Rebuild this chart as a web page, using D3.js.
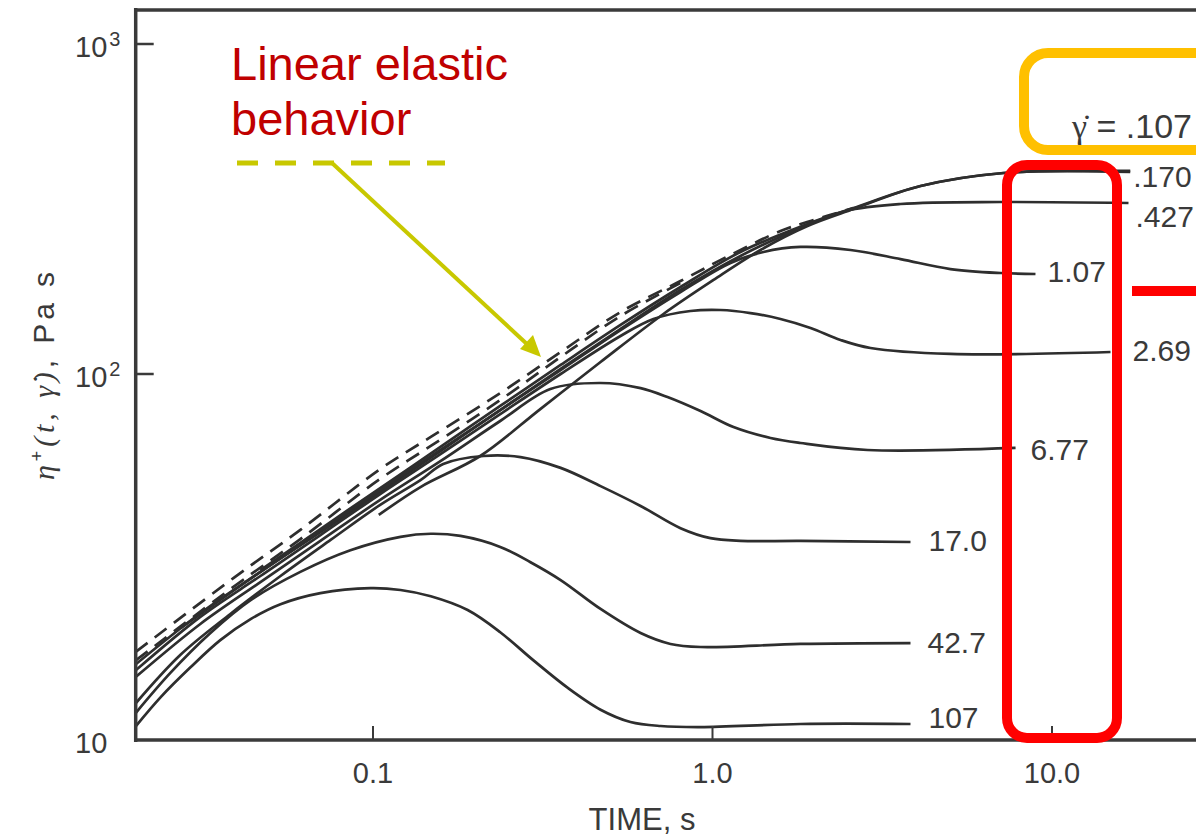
<!DOCTYPE html>
<html>
<head>
<meta charset="utf-8">
<script src="https://cdn.jsdelivr.net/npm/d3@7"></script>
<style>
  html, body { margin: 0; padding: 0; background: #fff; }
  svg { display: block; }
  text { font-family: "Liberation Sans", Arial, Helvetica, sans-serif; fill: #3a3a3a; }
</style>
</head>
<body>
<svg id="chart" width="1196" height="838"></svg>
<script>
// ---- data: [time s, eta+ Pa s] ----
// linear viscoelastic (dashed) envelopes
const lveUpper = [[0.02,17.4],[0.0388,27.7],[0.0611,37.5],[0.105,55.0],[0.148,67.3],[0.237,88.7],
  [0.357,116.6],[0.536,154.1],[0.805,191.3],[1.13,229.5],[1.586,271.2],[1.944,290.8],[2.6,318.4]];
const lveLower = [[0.02,16.5],[0.0388,26.2],[0.0611,35.4],[0.105,51.7],[0.148,63.6],[0.237,84.9],
  [0.357,112.6],[0.536,149.9],[0.805,188.7]];

// start-up curves, one per shear rate
const rate0107 = [[0.104,41.2],[0.138,49.1],[0.207,59.7],[0.311,80.2],[0.468,108.7],[0.717,152.0],
  [1.007,192.7],[1.385,237.6],[1.905,280.9],[2.602,316.2],[4.10,371.2],[7.2,406.6],[17.0,409.5]];
const rate0170 = [[0.0466,29.1],[0.070,37.7],[0.105,48.8],[0.158,63.2],[0.237,81.8],[0.357,106.5],
  [0.536,140.8],[0.805,183.5],[1.209,234.3],[1.905,284.8],[2.602,318.4],[4.10,371.2],[7.2,406.6],[17.0,412.4]];
const rate0427 = [[0.0271,20.2],[0.0466,28.8],[0.070,37.0],[0.105,47.6],[0.158,61.6],[0.237,79.7],
  [0.357,103.6],[0.536,136.9],[0.805,179.7],[1.209,227.9],[1.816,277.0],[2.465,311.9],[3.58,327.4],
  [7.05,332.0],[16.8,329.7]];
const rate107a = [[0.02,16.1],[0.031,22.2],[0.0466,28.8],[0.070,37.2],[0.105,48.2],[0.158,62.0],
  [0.237,79.7],[0.357,102.8],[0.536,135.9],[0.805,177.2],[1.13,217.0],[1.413,234.3],[1.816,242.7],
  [2.55,237.6],[3.58,222.9],[5.02,208.0],[7.05,202.3],[8.94,200.9]];
const rate269 = [[0.02,15.5],[0.031,21.7],[0.0466,28.06],[0.070,36.3],[0.105,47.0],[0.158,60.4],
  [0.237,77.7],[0.357,100],[0.536,130.4],[0.670,146.8],[0.861,155.2],[1.056,156.3],[1.294,153.0],
  [1.586,146.8],[1.944,137.9],[2.383,126.8],[2.92,119.9],[5.02,115.0],[14.87,116.6]];
const rate677 = [[0.02,14.86],[0.031,20.75],[0.0466,27.0],[0.070,35.0],[0.105,45.3],[0.158,57.8],
  [0.237,74.4],[0.333,91.0],[0.468,94.5],[0.614,91.5],[0.737,86.5],[0.922,79.2],[1.153,71.6],
  [1.482,66.85],[1.816,64.8],[2.861,62.0],[7.81,62.8]];
const rate170 = [[0.02,12.6],[0.0271,17.1],[0.038,22.1],[0.0534,28.06],[0.075,35.2],[0.105,43.9],
  [0.138,51.3],[0.161,56.8],[0.2116,59.7],[0.272,59.3],[0.357,55.4],[0.468,49.4],[0.614,43.6],
  [0.805,37.9],[0.986,35.6],[1.209,35.0],[1.816,35.0],[3.83,34.75]];
const rate427 = [[0.02,11.85],[0.0253,15.25],[0.0332,19.6],[0.0436,24.1],[0.0611,28.8],[0.0858,33.0],
  [0.1205,35.9],[0.148,36.6],[0.181,36.1],[0.237,33.7],[0.291,30.6],[0.357,27.35],[0.468,22.8],
  [0.614,19.6],[0.752,18.3],[0.922,17.95],[1.816,18.3],[3.83,18.4]];
const rate1070 = [[0.02,10.9],[0.0237,13.1],[0.029,15.8],[0.0355,18.75],[0.0436,21.4],[0.0534,23.5],
  [0.070,25.2],[0.0983,26.0],[0.1205,25.7],[0.148,24.7],[0.190,22.65],[0.237,19.7],[0.297,16.5],
  [0.374,13.9],[0.468,12.1],[0.573,11.2],[0.703,10.92],[0.922,10.85],[1.816,11.06],[3.83,11.06]];

const rateLabels = [".107", ".170", ".427", "1.07", "2.69", "6.77", "17.0", "42.7", "107"];
const xTicks = [0.1, 1, 10];
const xTickLabels = ["0.1", "1.0", "10.0"];
const yTicks = [10, 100, 1000];
const yTickExp = ["", "2", "3"];

const series = [rate0107, rate0170, rate0427, rate107a, rate269, rate677, rate170, rate427, rate1070]
  .map((pts, i) => ({ label: rateLabels[i], pts }));

// ---- scales (scan is slightly stretched, so y is piecewise per decade) ----
const x = d3.scaleLog().domain([0.1, 10]).range([373, 1052]);
const y = d3.scaleLog().domain([10, 100, 1000]).range([740, 374, 44]);

const svg = d3.select("#chart");
const plotL = x(0.02), plotR = 1210, plotT = 10, plotB = y(10);

svg.append("defs").append("clipPath").attr("id", "plot")
  .append("rect").attr("x", plotL).attr("y", plotT).attr("width", plotR - plotL).attr("height", plotB - plotT);

const line = d3.line().x(d => x(d[0])).y(d => y(d[1])).curve(d3.curveCatmullRom.alpha(0.5));

const curves = svg.append("g").attr("clip-path", "url(#plot)");
[lveUpper, lveLower].forEach(pts => {
  curves.append("path").attr("d", line(pts))
    .attr("fill", "none").attr("stroke", "#2e2e2e").attr("stroke-width", 2.7)
    .attr("stroke-dasharray", "15,9");
});
series.forEach(s => {
  curves.append("path").attr("d", line(s.pts))
    .attr("fill", "none").attr("stroke", "#2e2e2e").attr("stroke-width", 2.7);
});

// curve labels at the end of each line
const nudge = { ".170": [3, 6], ".427": [7, 13], "1.07": [12, -3], "2.69": [22, -1],
  "6.77": [15, 2], "17.0": [18, -2], "42.7": [17, -1], "107": [18, -6] };
series.filter(s => nudge[s.label]).forEach(s => {
  const end = s.pts[s.pts.length - 1];
  const [dx, dy] = nudge[s.label];
  svg.append("text").attr("x", x(end[0]) + dx).attr("y", y(end[1]) + dy)
    .attr("dy", "0.35em").attr("font-size", 30).text(s.label);
});
const g107 = svg.append("text").attr("x", 1072).attr("y", 138).attr("font-size", 34);
g107.append("tspan").attr("font-family", "Liberation Serif").text("\u03B3\u0307");
g107.append("tspan").text(" = " + rateLabels[0]);

// ---- frame and ticks ----
const frame = svg.append("g").attr("stroke", "#3a3a3a").attr("stroke-width", 3.5).attr("fill", "none");
frame.append("line").attr("x1", plotL).attr("x2", plotL).attr("y1", plotT - 2).attr("y2", plotB + 2);
frame.append("line").attr("x1", plotL).attr("x2", plotR).attr("y1", plotT).attr("y2", plotT);
frame.append("line").attr("x1", plotL).attr("x2", plotR).attr("y1", plotB).attr("y2", plotB);

xTicks.forEach((v, i) => {
  svg.append("line").attr("x1", x(v)).attr("x2", x(v)).attr("y1", plotB).attr("y2", plotB - 14)
    .attr("stroke", "#3a3a3a").attr("stroke-width", 2);
  svg.append("text").attr("x", x(v)).attr("y", plotB + 43).attr("text-anchor", "middle")
    .attr("font-size", 29).text(xTickLabels[i]);
});
yTicks.forEach((v, i) => {
  if (v > 10) {
    svg.append("line").attr("x1", plotL).attr("x2", plotL + 18).attr("y1", y(v)).attr("y2", y(v))
      .attr("stroke", "#3a3a3a").attr("stroke-width", 2.5);
  }
  const t = svg.append("text").attr("x", 75).attr("y", y(v) + 13).attr("font-size", 29);
  t.append("tspan").text("10");
  if (yTickExp[i]) t.append("tspan").attr("font-size", 20).attr("dy", -11).attr("dx", 2).text(yTickExp[i]);
});

svg.append("text").attr("x", 642).attr("y", 830).attr("text-anchor", "middle")
  .attr("font-size", 31).text("TIME, s");

const yl = svg.append("text").attr("transform", "translate(54,376) rotate(-90)")
  .attr("text-anchor", "middle").attr("font-size", 30).attr("textLength", 208);
yl.append("tspan").attr("font-family", "Liberation Serif").attr("font-style", "italic").text("\u03B7");
yl.append("tspan").attr("font-size", 18).attr("dy", -11).text("+");
yl.append("tspan").attr("font-family", "Liberation Serif").attr("font-style", "italic").attr("dy", 11)
  .text("(t, \u03B3\u0307)");
yl.append("tspan").text(", Pa s");

// ---- annotations ----
const ann = svg.append("g");
ann.append("text").attr("x", 231).attr("y", 80).attr("font-size", 47).style("fill", "#c00000").text("Linear elastic");
ann.append("text").attr("x", 231).attr("y", 135).attr("font-size", 47).style("fill", "#c00000").text("behavior");
ann.append("line").attr("x1", 237).attr("x2", 445).attr("y1", 163).attr("y2", 163)
  .attr("stroke", "#c8c800").attr("stroke-width", 5).attr("stroke-dasharray", "21,17");
ann.append("line").attr("x1", 332).attr("y1", 163).attr("x2", 528).attr("y2", 345)
  .attr("stroke", "#c8c800").attr("stroke-width", 4);
ann.append("path").attr("d", "M541,357 L520,349 L533,335 Z").attr("fill", "#c8c800");

ann.append("rect").attr("x", 1024).attr("y", 53).attr("width", 260).attr("height", 97).attr("rx", 24)
  .attr("fill", "none").attr("stroke", "#ffc000").attr("stroke-width", 10);
ann.append("rect").attr("x", 1007).attr("y", 165).attr("width", 110).attr("height", 573).attr("rx", 20)
  .attr("fill", "none").attr("stroke", "#ff0000").attr("stroke-width", 10);
ann.append("rect").attr("x", 1132).attr("y", 286).attr("width", 80).attr("height", 10).attr("fill", "#ff0000");
</script>
</body>
</html>
